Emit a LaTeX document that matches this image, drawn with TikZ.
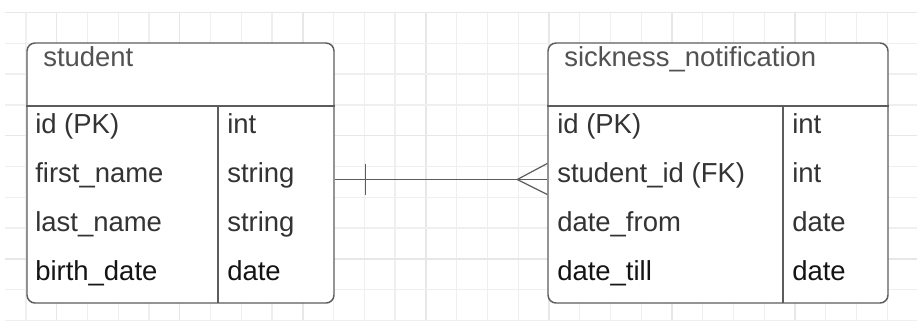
\documentclass[tikz,border=0pt]{standalone}
\usepackage{fontspec}
\setmainfont{Liberation Sans}
\usetikzlibrary{calc}
\definecolor{gridminor}{HTML}{EFEFEF}
\definecolor{gridmajor}{HTML}{E7E7E7}
\definecolor{edge}{HTML}{5C5C5C}
\definecolor{ink}{HTML}{333333}
\tikzset{
  gridline/.style={draw=gridminor, line width=1pt},
  majorline/.style={draw=gridmajor, line width=1pt},
  tablebox/.style={draw=edge, fill=white, rounded corners=6pt, line width=1.1pt, inner sep=0pt},
  rule/.style={draw=edge, line width=1.1pt},
  title/.style={anchor=base west, inner sep=0pt, text=ink!85, font=\fontsize{20.6pt}{24pt}\selectfont},
  field/.style={anchor=base west, inner sep=0pt, text=ink, font=\fontsize{20.6pt}{24pt}\selectfont},
  lastfield/.style={field, text=black!92},
  link/.style={draw=edge, line width=0.9pt}
}

\begin{document}
\begin{tikzpicture}[x=0.75pt,y=-0.75pt]
\useasboundingbox (0,0) rectangle (917,322);
% background grid
\foreach \i in {0,...,29} {
  \pgfmathsetmacro{\gx}{26+\i*30.76}
  \ifnum\numexpr\i-4*(\i/4)\relax=1
    \draw[majorline] (\gx,12.5) -- (\gx,321);
  \else
    \draw[gridline] (\gx,12.5) -- (\gx,321);
  \fi
}
\foreach \j in {0,...,10} {
  \pgfmathsetmacro{\gy}{12.5+\j*30.8}
  \ifnum\numexpr\j-4*(\j/4)\relax=0
    \draw[majorline] (5,\gy) -- (917,\gy);
  \else
    \draw[gridline] (5,\gy) -- (917,\gy);
  \fi
}

% tables
\node[tablebox, minimum width=230.25pt, minimum height=195pt] (student) at (180.5,173) {};
\node[tablebox, minimum width=255pt, minimum height=195pt] (sickness) at (718,173) {};
\draw[rule] (student.west |- 0,106) -- (student.east |- 0,106);
\draw[rule] (218,106) -- (218,303);
\draw[rule] (sickness.west |- 0,106) -- (sickness.east |- 0,106);
\draw[rule] (783,106) -- (783,303);

% student
\node[title] (studenthead) at (43,66) {student};
\node[field] (sid) at (35,133) {id (PK)};
\node[field] (sidtype) at (227,133) {int};
\node[field] (sfirst) at (35,182) {first\_name};
\node[field] (sfirsttype) at (227,182) {string};
\node[field] (slast) at (35,231) {last\_name};
\node[field] (slasttype) at (227,231) {string};
\node[lastfield] (sbirth) at (35,280) {birth\_date};
\node[lastfield] (sbirthtype) at (227,280) {date};

% sickness_notification
\node[title] (sickhead) at (564,66) {sickness\_notification};
\node[field] (nid) at (557,133) {id (PK)};
\node[field] (nidtype) at (792,133) {int};
\node[field] (nstudent) at (557,182) {student\_id (FK)};
\node[field] (nstudenttype) at (792,182) {int};
\node[field] (nfrom) at (557,231) {date\_from};
\node[field] (nfromtype) at (792,231) {date};
\node[lastfield] (ntill) at (557,280) {date\_till};
\node[lastfield] (ntilltype) at (792,280) {date};

% relation: one student -- many notifications
\coordinate (one) at (student.east |- 0,179.5);
\coordinate (many) at (sickness.west |- 0,179.5);
\draw[link] (one) -- (many);
\draw[link] ($(one)+(31,-16)$) -- ($(one)+(31,15)$);
\draw[link] ($(many)+(0,-16)$) -- ($(many)+(-30,0)$) -- ($(many)+(0,15)$);
\end{tikzpicture}
\end{document}
